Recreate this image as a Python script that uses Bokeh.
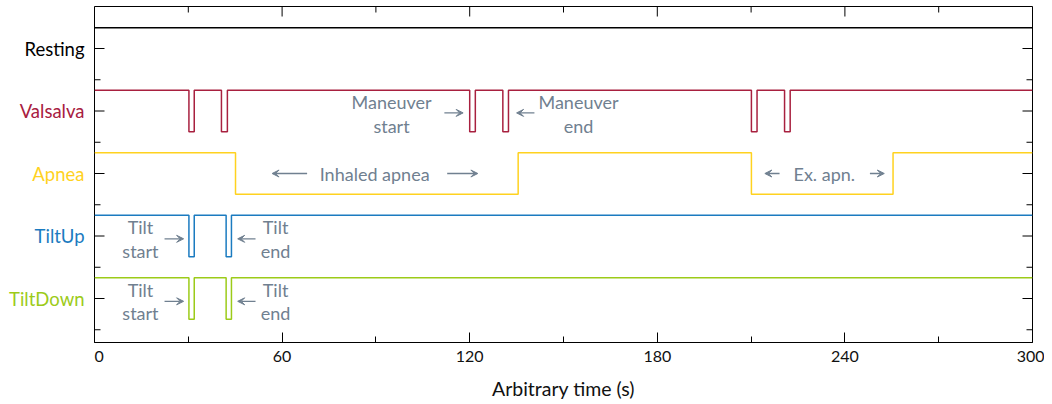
import math
from bokeh.plotting import figure
from bokeh.models import FixedTicker, Arrow, VeeHead, Range1d
from bokeh.layouts import row
from bokeh.core.properties import value
from bokeh.embed import file_html
from bokeh.resources import INLINE

# ---------------- data ----------------
categories = ["Resting", "Valsalva", "Apnea", "TiltUp", "TiltDown"]
cat_colors = ["#000000", "#A8203F", "#FFD21F", "#1B7BC0", "#9CCB19"]
cat_pos = [4, 3, 2, 1, 0]

resting_low = []  # never drops
valsalva_low = [(30.2, 31.9), (40.6, 42.5), (120.0, 121.8), (130.6, 132.4), (210.1, 211.9), (220.7, 222.5)]
apnea_low = [(45.1, 135.5), (210.1, 255.4)]
tiltup_low = [(30.2, 31.9), (42.1, 43.8)]
tiltdown_low = [(30.2, 31.9), (42.1, 43.8)]
signals_low = [resting_low, valsalva_low, apnea_low, tiltup_low, tiltdown_low]

x_major = [0, 60, 120, 180, 240, 300]
x_minor = [30, 90, 150, 210, 270]
y_minor = [-0.5, 0.5, 1.5, 2.5, 3.5]

notes_text = ["Maneuver\nstart", "Maneuver\nend", "Inhaled apnea", "Ex. apn.",
              "Tilt\nstart", "Tilt\nend", "Tilt\nstart", "Tilt\nend"]
notes_x = [95.0, 154.8, 89.6, 233.4, 14.7, 57.9, 14.7, 57.9]
notes_y = [2.95, 2.95, 2.0, 2.0, 0.95, 0.95, -0.05, -0.05]
arrows_x0 = [111.9, 140.7, 68.0, 112.8, 219.1, 248.0, 22.4, 51.5, 22.4, 51.5]
arrows_x1 = [117.9, 135.0, 56.8, 122.6, 214.4, 252.6, 28.5, 45.8, 28.5, 45.8]
arrows_y = [2.97, 2.97, 2.0, 2.0, 2.0, 2.0, 0.955, 0.955, -0.045, -0.045]

note_color = "#708090"
FONT = "Lato"

XR = Range1d(0, 300)
YR = Range1d(-0.704, 4.672)
TOP = 6
FW, FH = 938, 336
LEFT_W = 94

# ---------------- main figure ----------------
p = figure(x_range=XR, y_range=YR, frame_width=FW, frame_height=FH,
           output_backend="svg", toolbar_location=None,
           y_axis_location=None,
           min_border_left=0, min_border_right=12, min_border_top=TOP, min_border_bottom=0)
p.xgrid.visible = False
p.ygrid.visible = False
p.outline_line_color = "black"
p.outline_line_width = 1
p.background_fill_color = "white"
p.border_fill_color = "white"

ax = p.xaxis[0]
ax.ticker = FixedTicker(ticks=x_major, minor_ticks=x_minor)
ax.major_tick_in = 10
ax.major_tick_out = 0
ax.minor_tick_in = 6
ax.minor_tick_out = 0
ax.axis_line_color = "black"
ax.major_tick_line_color = "black"
ax.minor_tick_line_color = "black"
ax.major_label_text_font = FONT
ax.major_label_text_font_size = "16px"
ax.major_label_text_color = "#111111"
ax.major_label_standoff = 8
ax.axis_label = "Arbitrary time (s)"
ax.axis_label_text_font = FONT
ax.axis_label_text_font_size = "19.5px"
ax.axis_label_text_font_style = "normal"
ax.axis_label_text_color = "#111111"
ax.axis_label_standoff = 12

# mirrored inward ticks (top, left, right) drawn as screen-length rays
ytop, ybot = YR.end, YR.start
p.ray(x=x_major, y=[ytop] * len(x_major), length=10, length_units="screen",
      angle=-math.pi / 2, line_color="black", line_width=1)
p.ray(x=x_minor, y=[ytop] * len(x_minor), length=6, length_units="screen",
      angle=-math.pi / 2, line_color="black", line_width=1)
for xe, ang in ((XR.start, 0.0), (XR.end, math.pi)):
    p.ray(x=[xe] * len(cat_pos), y=cat_pos, length=10, length_units="screen",
          angle=ang, line_color="black", line_width=1)
    p.ray(x=[xe] * len(y_minor), y=y_minor, length=6, length_units="screen",
          angle=ang, line_color="black", line_width=1)

# ---------------- signals ----------------
half = 1.0 / 3.0
for name, col, pos, lows in zip(categories, cat_colors, cat_pos, signals_low):
    ts = [XR.start]
    lv = [1]
    for a, b in lows:
        ts += [a, a, b, b]
        lv += [1, 0, 0, 1]
    ts.append(XR.end)
    lv.append(1)
    ys = [pos + (l - 0.5) * 2 * half for l in lv]
    p.line(ts, ys, line_color=col, line_width=1.5)

# ---------------- annotations ----------------
p.text(x=notes_x, y=notes_y, text=notes_text, text_align="center", text_baseline="middle",
       text_font=value(FONT), text_font_size="18px", text_color=note_color,
       text_line_height=1.07)

for x0, x1, y in zip(arrows_x0, arrows_x1, arrows_y):
    p.add_layout(Arrow(x_start=x0, x_end=x1, y_start=y, y_end=y,
                       line_color=note_color, line_width=1.3,
                       end=VeeHead(size=7, line_color=note_color, fill_color=note_color, line_width=1)))

# ---------------- category labels (left strip) ----------------
lf = figure(x_range=Range1d(0, LEFT_W), y_range=YR, frame_width=LEFT_W, frame_height=FH,
            output_backend="svg", toolbar_location=None,
            x_axis_location=None, y_axis_location=None,
            min_border_left=0, min_border_right=0, min_border_top=TOP, min_border_bottom=0)
lf.xgrid.visible = False
lf.ygrid.visible = False
lf.outline_line_color = None
lf.background_fill_color = "white"
lf.border_fill_color = "white"
lf.text(x=[LEFT_W - 10] * len(categories), y=cat_pos, text=categories, text_color=cat_colors,
        text_align="right", text_baseline="middle",
        text_font=value(FONT), text_font_size="18.5px")

layout = row(lf, p, spacing=0)
open("out.html", "w").write(file_html(layout, INLINE))
